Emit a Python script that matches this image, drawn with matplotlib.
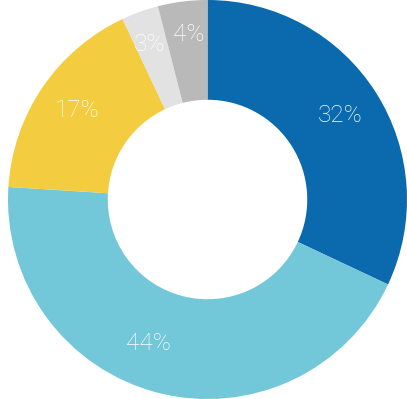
import numpy as np
import matplotlib.pyplot as plt

# dane wykresu
etykiety = ["A", "B", "C", "D", "E"]
wartosci = [32, 44, 17, 3, 4]
kolory = ["#0a6aad", "#72c7d8", "#f3cd3f", "#e2e2e2", "#b9b9b9"]

fig = plt.figure(figsize=(4.07, 3.99), dpi=100)
ax = fig.add_axes([0, 0, 1, 1])

wedges, teksty, procenty = ax.pie(
    wartosci,
    colors=kolory,
    startangle=90,
    counterclock=False,
    radius=1.0,
    wedgeprops=dict(width=0.5, linewidth=0),
    autopct="%d%%",
    pctdistance=0.79,
    textprops=dict(color="white", fontsize=17.5, family="Roboto", weight="light"),
)

# etykieta 44% przesunięta w lewo, jak w oryginale
kat = np.deg2rad(-112.5)
procenty[1].set_position((0.78 * np.cos(kat), 0.78 * np.sin(kat)))
# małe wycinki - etykiety nieco dalej od środka
for i, kat_st in [(3, 110.5), (4, 96.5)]:
    k = np.deg2rad(kat_st)
    procenty[i].set_position((0.83 * np.cos(k), 0.83 * np.sin(k)))

ax.set_xlim(-207.5 / 199.5, 199.5 / 199.5)
ax.set_ylim(-1, 1)
ax.set_aspect("equal")
ax.axis("off")

fig.savefig("out.png", dpi=100)
